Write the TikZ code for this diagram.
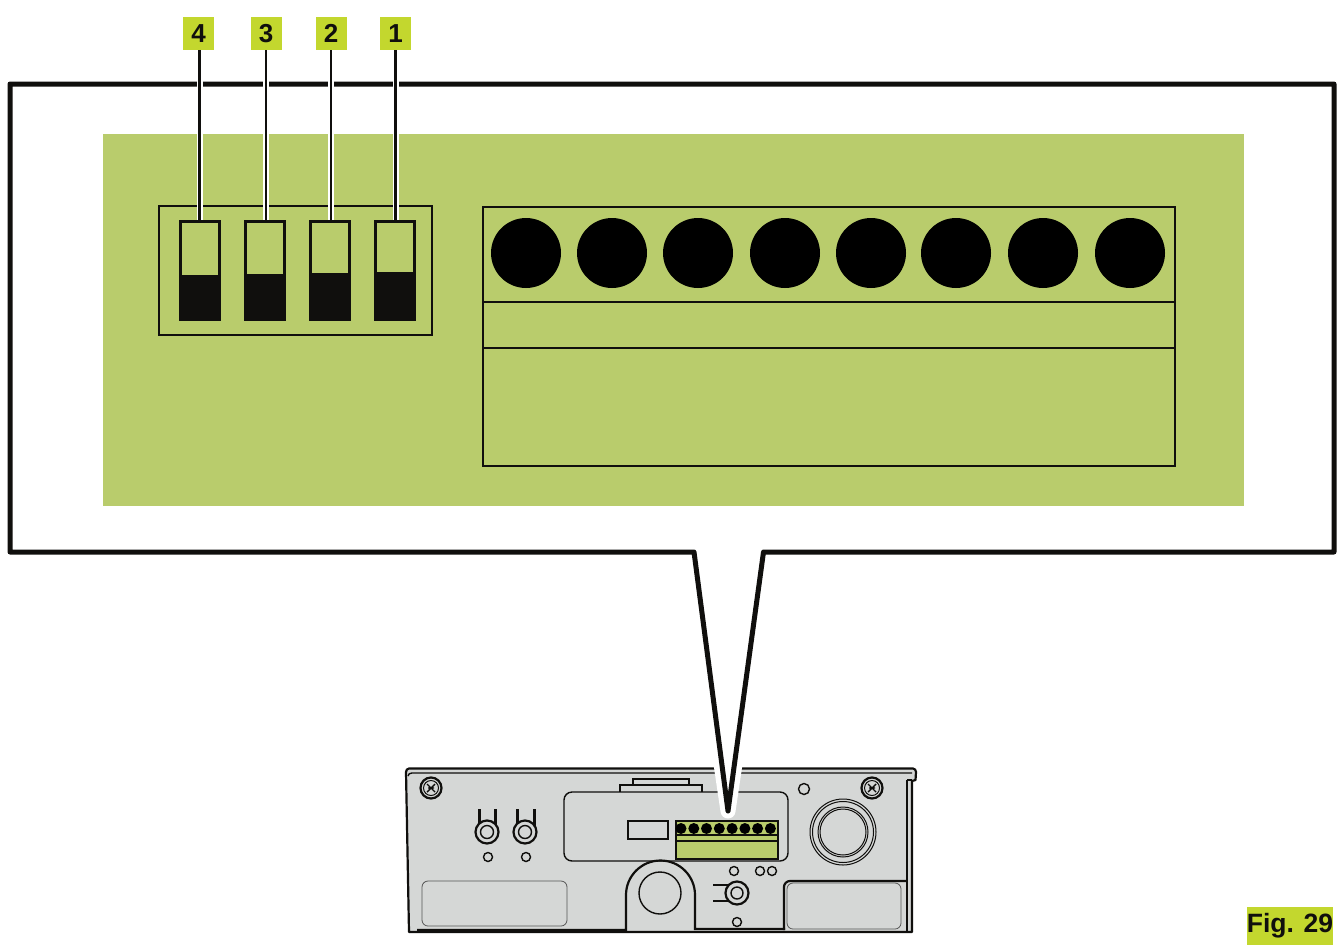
\documentclass[tikz,border=0pt]{standalone}
\usepackage{fontspec}
\setmainfont{Liberation Sans}
\definecolor{panel}{HTML}{B9CC6C}
\definecolor{tagc}{HTML}{C3D72E}
\definecolor{inkc}{HTML}{100F0D}
\definecolor{body}{HTML}{D5D7D6}
\definecolor{thinl}{HTML}{555555}
\tikzset{
  tag/.style={fill=tagc,inner sep=0pt,minimum width=31pt,minimum height=33pt,font=\bfseries\fontsize{26}{26}\selectfont,text=inkc},
  dipsw/.style={draw=inkc,line width=3pt,inner sep=0pt,minimum width=39pt,minimum height=98pt},
  hole/.style={circle,fill=black,inner sep=0pt,minimum size=70pt},
  minihole/.style={circle,fill=black,inner sep=0pt,minimum size=11pt},
  lead/.style={line width=2.4pt,draw=inkc},
  halo/.style={line width=6pt,draw=white},
  dev/.style={draw=inkc,line width=1.4pt},
  devfine/.style={draw=inkc,line width=1pt},
  devthick/.style={draw=inkc,line width=2.2pt},
  devthin/.style={draw=thinl,line width=0.8pt},
  frame/.style={draw=inkc,line width=5pt,line join=round},
  box/.style={draw=inkc,line width=2.4pt},
}
\begin{document}
\begin{tikzpicture}[x=1pt,y=-1pt]
\useasboundingbox (0,0) rectangle (1343,945);
% ---- device
\draw[devthick,fill=body,line join=round] (406,772) to[out=90,in=180] (409,768.5) -- (913,768.5) to[out=0,in=90] (916,772) -- (915.5,780) -- (912,781) -- (912,932) -- (409,932) -- cycle;
\draw[dev] (408,776) to[out=90,in=180] (412,773) -- (912,773);
\draw[dev] (907,780) -- (907,932);
\draw[dev] (907,780) -- (912,780);
\draw[dev,fill=body] (633,785) -- (633,779) -- (689,779) -- (689,785);
\draw[dev,fill=body] (620,792) -- (620,785) -- (702,785) -- (702,792);
\draw[dev,fill=body,rounded corners=8pt] (564,792) rectangle (788,861);
\draw[dev,fill=body] (628,821) rectangle (668,839);
% terminal block miniature
\draw[dev,fill=panel] (676,821) rectangle (778,859);
\draw[dev] (676,835) -- (778,835) (676,841) -- (778,841);
\foreach \i/\xx in {1/681,2/693.8,3/706.5,4/719.3,5/732.1,6/744.9,7/757.6,8/770.4}
  \node[minihole] (m\i) at (\xx,828.5) {};
% screws
\foreach \xx in {431,872}{
  \draw[devthick] (\xx,788) circle (10.5);
  \draw[devfine] (\xx,788) circle (7.5);
  \draw[dev] (\xx-4,784) -- (\xx+4,792) (\xx+4,784) -- (\xx-4,792) (\xx-3,788) -- (\xx+3,788);
}
% toggle jacks
\foreach \xx in {479,495,517,534}{
  \draw[dev] (\xx,809) -- (\xx,826);
  \draw[devfine] (\xx+1.3,809) -- (\xx+1.3,826);
}
\foreach \xx in {487,525}{
  \draw[devthick,fill=body] (\xx,832) circle (11.5);
  \draw[dev] (\xx,832) circle (6.5);
  \draw[dev] (\xx+1,857) circle (4.5);
}
\draw[dev] (713,885) -- (730,885) (713,901) -- (730,901);
\draw[devthick,fill=body] (737,893) circle (11.5);
\draw[dev] (737,893) circle (6);
% small circles
\draw[dev] (804,789) circle (5.5);
\draw[dev] (734,871) circle (4.5);
\draw[dev] (760,871) circle (4.5);
\draw[dev] (772,871) circle (4.5);
\draw[dev] (737,922) circle (4.5);
% large connector
\draw[devfine] (843,832) circle (33);
\draw[devfine] (843,832) circle (30.5);
\draw[devfine] (843,832) circle (25);
\draw[devfine] (843,832) circle (23);
% lower panels
\draw[devthin,rounded corners=6pt] (422,881) rectangle (567,926);
\draw[devthin,rounded corners=6pt] (787,883) rectangle (901,929);
\draw[devthick] (417,930) -- (626,930) -- (626,895) arc[start angle=180,end angle=360,radius=34.5] -- (695,929) -- (785,929);
\draw[devthick,rounded corners=6pt] (784,930) -- (784,881) -- (907,881);
\draw[dev] (660,893) circle (21);
% ---- callout
\coordinate (pl) at (694,552);
\coordinate (pr) at (763.5,552);
\coordinate (ptip) at (728,811);
\draw[draw=white,line width=15pt,line join=round,line cap=butt] (717.5,740) -- (ptip) -- (738.5,740);
\draw[frame,fill=white] (10,84) -- (1334,84) -- (1334,552) -- (pr) -- (ptip) -- (pl) -- (10,552) -- cycle;
% ---- enlarged panel
\fill[panel] (103,134) rectangle (1244,506);
\draw[box] (159,206) rectangle (432,335);
\node[dipsw] (s4) at (199.5,270.5) {};
\node[dipsw] (s3) at (264.5,270.5) {};
\node[dipsw] (s2) at (329.5,270.5) {};
\node[dipsw] (s1) at (394.5,270.5) {};
\fill[inkc] (s4.west |- 0,274.5) rectangle (s4.south east);
\fill[inkc] (s3.west |- 0,273.5) rectangle (s3.south east);
\fill[inkc] (s2.west |- 0,272.5) rectangle (s2.south east);
\fill[inkc] (s1.west |- 0,271.5) rectangle (s1.south east);
% terminal block enlarged
\draw[box] (483,207) rectangle (1175,466);
\draw[box] (483,302) -- (1175,302) (483,348) -- (1175,348);
\foreach \i/\xx in {1/526,2/612,3/698,4/785,5/871,6/956,7/1043,8/1130}
  \node[hole] (h\i) at (\xx,253) {};
% ---- tags and leaders
\node[tag] (t4) at (198.5,33.5) {4};
\node[tag] (t3) at (266,33.5) {3};
\node[tag] (t2) at (331,33.5) {2};
\node[tag] (t1) at (395.5,33.5) {1};
\draw[halo] (t4.south -| s4.north) -- (s4.north);
\draw[halo] (t3.south) -- (t3.south |- s3.north);
\draw[halo] (t2.south) -- (t2.south |- s2.north);
\draw[halo] (t1.south) -- (t1.south |- s1.north);
\draw[lead] (t4.south -| s4.north) -- (s4.north);
\draw[lead] (t3.south) -- (t3.south |- s3.north);
\draw[lead] (t2.south) -- (t2.south |- s2.north);
\draw[lead] (t1.south) -- (t1.south |- s1.north);
% ---- figure tag
\node[fill=tagc,inner sep=0pt,minimum width=86pt,minimum height=38pt,font=\bfseries\fontsize{26.5}{26.5}\selectfont,text=inkc] (fig) at (1290,926) {Fig. 29};
\end{tikzpicture}
\end{document}
